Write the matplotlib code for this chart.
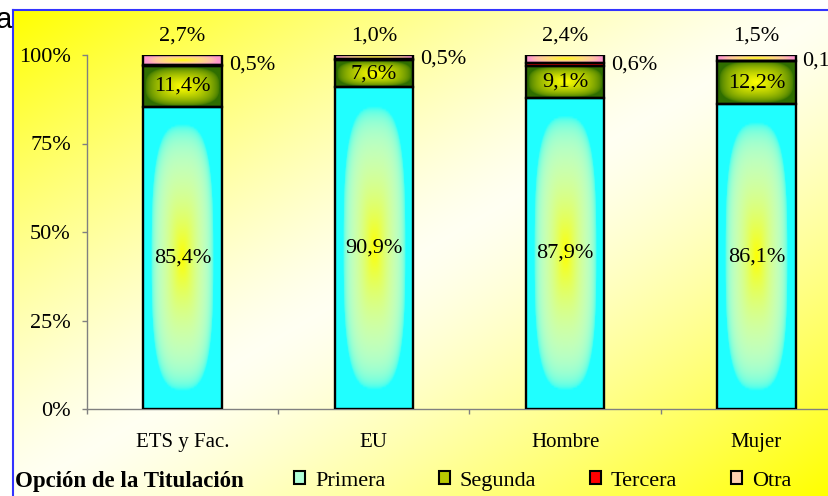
import numpy as np
import matplotlib
matplotlib.use('Agg')
import matplotlib.pyplot as plt
from matplotlib.colors import to_rgb
from matplotlib.patches import Patch

categories = ['ETS y Fac.', 'EU', 'Hombre', 'Mujer']
series_names = ['Primera', 'Segunda', 'Tercera', 'Otra']
primera = [85.4, 90.9, 87.9, 86.1]
segunda = [11.4, 7.6, 9.1, 12.2]
tercera = [0.5, 0.5, 0.6, 0.1]
otra = [2.7, 1.0, 2.4, 1.5]
yticks = [0, 25, 50, 75, 100]
legend_title = 'Opción de la Titulación'

plt.rcParams['font.family'] = ['Liberation Serif', 'DejaVu Serif']

W, H = 829, 496
fig = plt.figure(figsize=(W / 100, H / 100), dpi=100)


def pct(v):
    return ('%.1f' % v).replace('.', ',') + '%'


def grad_img(edge, center, reach=0.8, p=0.6, vs=1.1, whiten=0.0, n=160, m=80):
    # "from centre" gradient: centre colour in the middle, edge colour outside
    u = np.linspace(-1, 1, m)
    v = np.linspace(-1, 1, n)
    U, V = np.meshgrid(u, v)
    t = (np.abs(U) ** 3 + (np.abs(V) / vs) ** 3) ** (1 / 3)
    w = np.clip(1 - t / reach, 0, 1) ** p
    e = np.array(to_rgb(edge))
    c = np.array(to_rgb(center))
    img = e + (c - e) * w[..., None]
    k = (whiten * 4 * w * (1 - w))[..., None]
    return img + k * (1 - img)


# background + frame
bg = fig.add_axes([0, 0, 1, 1])
bg.axis('off')
fx0, fy0 = 13, 10
uu = np.linspace(0, 1, 300)
vv = np.linspace(0, 1, 200)
UU, VV = np.meshgrid(uu, vv)
tt = np.abs((UU + VV) / 2 - 0.5) * 2
b = 0.05 + 0.95 * tt ** 1.3
bg_img = np.dstack([np.ones_like(b), np.ones_like(b), 1 - b])
bg.imshow(bg_img, extent=[fx0, W, H, fy0], aspect='auto', interpolation='bilinear')
bg.plot([fx0, fx0], [fy0, H], color='#3333FF', lw=1.5)
bg.plot([fx0, W], [fy0, fy0], color='#3333FF', lw=1.5)
bg.set_xlim(0, W)
bg.set_ylim(H, 0)
bg.text(-4, 28, 'a', ha='left', va='baseline', fontsize=21, family='Liberation Sans')

# main axes
ax = fig.add_axes([87 / W, (H - 409) / H, 765 / W, 354 / H])
ax.set_facecolor('none')

x = np.arange(len(categories))
width = 0.41
grads = {'Primera': ('#20FFFF', 0.8, 0.6, 1.1, 0.45),
         'Segunda': ('#2F6E00', 0.95, 0.6, 1.0, 0.0),
         'Otra': ('#FF99CC', 0.9, 0.8, 1.0, 0.2)}
fills = {'Primera': '#B0FFD8', 'Segunda': '#B8C800', 'Tercera': '#FF0000', 'Otra': '#FFD0B0'}

bottom = np.zeros(len(categories))
all_bars = {}
for name, vals in zip(series_names, [primera, segunda, tercera, otra]):
    fc = '#FF0000' if name == 'Tercera' else 'none'
    bars = ax.bar(x, vals, width, bottom=bottom, facecolor=fc,
                  edgecolor='black', lw=1.7, zorder=3)
    if name != 'Tercera':
        edge, reach, p, vs, wh = grads[name]
        for r in bars:
            ax.imshow(grad_img(edge, '#FFFF00', reach, p, vs, wh),
                      extent=[r.get_x(), r.get_x() + r.get_width(),
                              r.get_y(), r.get_y() + r.get_height()],
                      aspect='auto', interpolation='bilinear', zorder=2)
    all_bars[name] = bars
    bottom = bottom + np.array(vals)

for i in range(len(categories)):
    for name, vals in [('Primera', primera), ('Segunda', segunda)]:
        r = all_bars[name][i]
        ax.text(r.get_x() + r.get_width() / 2, r.get_y() + r.get_height() / 2,
                pct(vals[i]), ha='center', va='center', fontsize=16, zorder=5)
    r = all_bars['Tercera'][i]
    ax.annotate(pct(tercera[i]), xy=(r.get_x() + r.get_width(), r.get_y() + r.get_height() / 2),
                xytext=(5, 0), textcoords='offset points', ha='left', va='center',
                fontsize=16, annotation_clip=False, zorder=5)
    r = all_bars['Otra'][i]
    ax.annotate(pct(otra[i]), xy=(r.get_x() + r.get_width() / 2, r.get_y() + r.get_height()),
                xytext=(0, 14), textcoords='offset points', ha='center', va='center',
                fontsize=16, annotation_clip=False, zorder=5)

ax.set_xlim(-0.5, 3.5)
ax.set_ylim(0, 100)
ax.set_yticks(yticks)
ax.set_yticklabels(['%d%%' % t for t in yticks])
ax.set_xticks([-0.5, 0.5, 1.5, 2.5, 3.5])
ax.set_xticklabels([])
ax.set_xticks(x, categories, minor=True)
ax.tick_params(axis='x', which='major', length=3.6, width=1, color='#808080', direction='out')
ax.tick_params(axis='x', which='minor', length=0, pad=17, labelsize=15)
ax.tick_params(axis='y', length=3.6, width=1, color='#808080', pad=8, labelsize=16)
for s in ['top', 'right']:
    ax.spines[s].set_visible(False)
for s in ['left', 'bottom']:
    ax.spines[s].set_color('#808080')
    ax.spines[s].set_linewidth(1)

# legend
fig.text(15 / W, (H - 487) / H, legend_title, fontsize=16.5, fontweight='bold', va='baseline')
handles = [Patch(facecolor=fills[n], edgecolor='black', lw=1.5) for n in series_names]
fig.legend(handles, series_names, loc='center left', bbox_to_anchor=(294 / W, (H - 481) / H),
           ncol=4, frameon=False, fontsize=16, handlelength=0.5, handleheight=0.5,
           handletextpad=0.45, columnspacing=2.4, borderpad=0, borderaxespad=0)

fig.savefig('out.png', dpi=100)
